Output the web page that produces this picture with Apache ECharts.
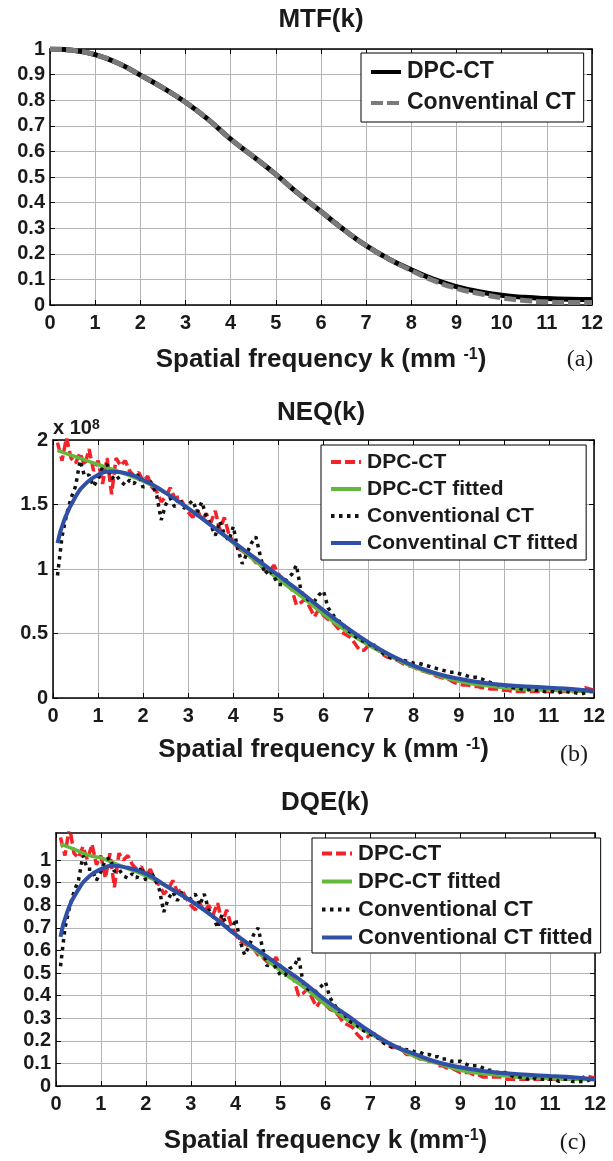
<!DOCTYPE html>
<html lang="en">
<head>
<meta charset="UTF-8">
<title>MTF / NEQ / DQE</title>
<script src="https://cdn.jsdelivr.net/npm/echarts@6/dist/echarts.min.js"></script>
<style>
    * { margin: 0; padding: 0; box-sizing: border-box; }
    html, body { background: #fff; }
</style>
</head>
<body>
<div id="main" style="width:613px;height:1161px;"></div>
<script type="text/javascript">
    // ---- data ----
    var xTicks = [0, 1, 2, 3, 4, 5, 6, 7, 8, 9, 10, 11, 12];
    var yTicksA = [0, 0.1, 0.2, 0.3, 0.4, 0.5, 0.6, 0.7, 0.8, 0.9, 1];
    var yTicksB = [0, 0.5, 1, 1.5, 2];          // x 10^8
    var yTicksC = [0, 0.1, 0.2, 0.3, 0.4, 0.5, 0.6, 0.7, 0.8, 0.9, 1];

    // (a) MTF
    var kMtf = [0, 0.5, 1, 1.5, 2, 2.5, 3, 3.5, 4, 4.5, 5, 5.5, 6, 6.5, 7, 7.5, 8, 8.5, 9, 9.5, 10, 10.5, 11, 11.5, 12];
    var mtfDpc = [1.0, 0.995, 0.978, 0.945, 0.898, 0.848, 0.792, 0.725, 0.648, 0.58, 0.51, 0.435, 0.365, 0.295, 0.232, 0.18, 0.138, 0.1, 0.072, 0.052, 0.038, 0.03, 0.025, 0.022, 0.021];
    var mtfConv = [1.0, 0.995, 0.978, 0.945, 0.898, 0.848, 0.792, 0.725, 0.648, 0.58, 0.51, 0.435, 0.365, 0.295, 0.232, 0.18, 0.135, 0.095, 0.065, 0.045, 0.028, 0.018, 0.012, 0.01, 0.01];

    // fitted curves, (b) and (c)
    var kFit = [0.1, 0.25, 0.5, 0.75, 1, 1.25, 1.5, 2, 2.5, 3, 3.5, 4, 4.5, 5, 5.5, 6, 6.5, 7, 7.5, 8, 8.5, 9, 9.5, 10, 10.5, 11, 11.5, 12];
    var neqDpcFit = [1.92, 1.9, 1.87, 1.84, 1.81, 1.78, 1.75, 1.68, 1.59, 1.47, 1.34, 1.2, 1.06, 0.92, 0.79, 0.65, 0.52, 0.41, 0.32, 0.24, 0.18, 0.13, 0.1, 0.08, 0.065, 0.06, 0.055, 0.05];
    var neqConvFit = [1.2, 1.38, 1.56, 1.67, 1.73, 1.755, 1.75, 1.69, 1.59, 1.47, 1.34, 1.21, 1.08, 0.95, 0.82, 0.68, 0.55, 0.43, 0.33, 0.25, 0.19, 0.15, 0.12, 0.1, 0.09, 0.08, 0.07, 0.055];
    var dqeDpcFit = [1.07, 1.06, 1.04, 1.02, 1.01, 0.99, 0.97, 0.93, 0.88, 0.82, 0.75, 0.67, 0.59, 0.51, 0.44, 0.36, 0.29, 0.23, 0.18, 0.13, 0.1, 0.07, 0.055, 0.045, 0.036, 0.033, 0.03, 0.028];
    var dqeConvFit = [0.66, 0.77, 0.87, 0.93, 0.96, 0.975, 0.97, 0.94, 0.88, 0.82, 0.75, 0.67, 0.6, 0.53, 0.46, 0.38, 0.31, 0.24, 0.18, 0.14, 0.105, 0.083, 0.067, 0.056, 0.05, 0.044, 0.039, 0.03];

    // measured (noisy) curves, sampled every 0.1 from 0.1 to 12
    var kNoisy = [];
    for (var i = 1; i <= 120; i++) kNoisy.push(i / 10);

    var neqDpc = [
        1.98, 1.84, 2.02, 1.86, 1.82, 1.9, 1.8, 1.93, 1.76, 1.84,
        1.66, 1.86, 1.58, 1.86, 1.8, 1.84, 1.76, 1.72, 1.75, 1.68,
        1.72, 1.63, 1.6, 1.52, 1.56, 1.63, 1.55, 1.56, 1.5, 1.44,
        1.4, 1.46, 1.38, 1.43, 1.36, 1.45, 1.3, 1.4, 1.27, 1.21,
        1.16, 1.14, 1.11, 1.09, 1.05, 1.03, 0.99, 0.98, 1.03, 0.96,
        0.92, 0.9, 0.84, 0.72, 0.74, 0.77, 0.7, 0.63, 0.69, 0.64,
        0.61, 0.59, 0.55, 0.51, 0.49, 0.47, 0.42, 0.37, 0.37, 0.41,
        0.42, 0.38, 0.34, 0.32, 0.31, 0.3, 0.28, 0.26, 0.25, 0.24,
        0.22, 0.21, 0.2, 0.19, 0.17, 0.16, 0.15, 0.14, 0.12, 0.11,
        0.1, 0.1, 0.09, 0.09, 0.08, 0.08, 0.07, 0.07, 0.07, 0.06,
        0.06, 0.05, 0.05, 0.05, 0.05, 0.05, 0.05, 0.05, 0.05, 0.05,
        0.05, 0.05, 0.05, 0.05, 0.05, 0.05, 0.06, 0.08, 0.07, 0.06
    ];
    var neqConv = [
        0.95, 1.25, 1.42, 1.55, 1.64, 1.84, 1.72, 1.73, 1.64, 1.7,
        1.79, 1.81, 1.7, 1.73, 1.68, 1.65, 1.69, 1.66, 1.74, 1.63,
        1.7, 1.66, 1.57, 1.38, 1.5, 1.55, 1.48, 1.55, 1.47, 1.5,
        1.53, 1.44, 1.52, 1.41, 1.34, 1.26, 1.37, 1.27, 1.22, 1.33,
        1.15, 1.04, 1.12, 1.2, 1.25, 1.1, 0.96, 1.0, 0.94, 0.88,
        0.88, 0.93, 0.96, 1.03, 0.83, 0.78, 0.75, 0.75, 0.8, 0.83,
        0.7, 0.65, 0.6, 0.59, 0.53, 0.51, 0.48, 0.45, 0.44, 0.42,
        0.4, 0.38, 0.35, 0.33, 0.31, 0.3, 0.3, 0.29, 0.28, 0.27,
        0.27, 0.26, 0.25, 0.24, 0.23, 0.22, 0.21, 0.2, 0.2, 0.19,
        0.18, 0.17, 0.16, 0.16, 0.15, 0.13, 0.12, 0.11, 0.1, 0.1,
        0.09, 0.08, 0.08, 0.07, 0.06, 0.07, 0.06, 0.06, 0.05, 0.05,
        0.05, 0.04, 0.05, 0.05, 0.04, 0.04, 0.03, 0.04, 0.05, 0.05
    ];
    var dqeDpc = [
        1.1, 1.02, 1.15, 1.03, 1.01, 1.06, 1.0, 1.07, 0.98, 1.02,
        0.92, 1.03, 0.88, 1.03, 1.0, 1.02, 0.98, 0.96, 0.97, 0.93,
        0.96, 0.91, 0.89, 0.85, 0.87, 0.91, 0.86, 0.87, 0.83, 0.8,
        0.78, 0.81, 0.77, 0.8, 0.76, 0.81, 0.72, 0.78, 0.71, 0.67,
        0.64, 0.63, 0.62, 0.61, 0.58, 0.57, 0.55, 0.54, 0.57, 0.53,
        0.51, 0.5, 0.47, 0.4, 0.41, 0.43, 0.39, 0.35, 0.38, 0.36,
        0.34, 0.33, 0.31, 0.28, 0.27, 0.26, 0.23, 0.21, 0.21, 0.23,
        0.23, 0.21, 0.19, 0.18, 0.17, 0.17, 0.16, 0.14, 0.14, 0.13,
        0.12, 0.12, 0.11, 0.11, 0.09, 0.09, 0.08, 0.08, 0.07, 0.06,
        0.06, 0.06, 0.05, 0.05, 0.04, 0.04, 0.04, 0.04, 0.04, 0.03,
        0.03, 0.03, 0.03, 0.03, 0.03, 0.03, 0.03, 0.03, 0.03, 0.03,
        0.03, 0.03, 0.03, 0.03, 0.03, 0.03, 0.035, 0.045, 0.04, 0.035
    ];
    var dqeConv = [
        0.53, 0.7, 0.79, 0.86, 0.91, 1.02, 0.96, 0.96, 0.91, 0.95,
        1.0, 1.01, 0.95, 0.96, 0.93, 0.92, 0.94, 0.92, 0.97, 0.91,
        0.95, 0.92, 0.87, 0.77, 0.83, 0.86, 0.82, 0.86, 0.82, 0.83,
        0.85, 0.8, 0.85, 0.78, 0.75, 0.7, 0.76, 0.71, 0.68, 0.74,
        0.64, 0.58, 0.62, 0.67, 0.7, 0.61, 0.53, 0.56, 0.52, 0.49,
        0.49, 0.52, 0.53, 0.57, 0.46, 0.43, 0.42, 0.42, 0.44, 0.46,
        0.39, 0.36, 0.33, 0.33, 0.29, 0.28, 0.27, 0.25, 0.24, 0.23,
        0.22, 0.21, 0.19, 0.18, 0.17, 0.17, 0.17, 0.16, 0.16, 0.15,
        0.15, 0.14, 0.14, 0.13, 0.13, 0.12, 0.12, 0.11, 0.11, 0.11,
        0.1, 0.09, 0.09, 0.09, 0.08, 0.07, 0.07, 0.06, 0.06, 0.06,
        0.05, 0.04, 0.04, 0.04, 0.03, 0.04, 0.03, 0.03, 0.03, 0.03,
        0.03, 0.02, 0.03, 0.03, 0.02, 0.02, 0.02, 0.02, 0.03, 0.03
    ];

    // ---- styling helpers ----
    var FONT = '"Liberation Sans", Arial, sans-serif';
    var INK = '#1a1a1a';
    var RED = '#f5222a', GREEN = '#62b83c', BLUE = '#2f50a6', DOT = '#111';

    function pairs(xs, ys) {
        return xs.map(function (x, i) { return [x, ys[i]]; });
    }

    function xBottom(g, gap, label) {
        return {
            type: 'value', gridIndex: g, min: 0, max: 12, interval: 1,
            axisLine: { onZero: false, lineStyle: { color: '#000', width: 1.5 } },
            axisTick: { inside: true, length: 5, lineStyle: { color: '#000' } },
            axisLabel: { margin: 8, color: INK, fontFamily: FONT, fontWeight: 'bold', fontSize: 20 },
            splitLine: { show: true, lineStyle: { color: '#b4b4b4', width: 1 } },
            name: label, nameLocation: 'middle', nameGap: gap,
            nameTextStyle: {
                color: INK, fontFamily: FONT, fontWeight: 'bold', fontSize: 26,
                rich: { sup: { fontFamily: FONT, fontWeight: 'bold', fontSize: 16, color: INK, verticalAlign: 'top' } }
            }
        };
    }
    function xTop(g) {
        return {
            type: 'value', gridIndex: g, position: 'top', min: 0, max: 12, interval: 1,
            axisLine: { onZero: false, lineStyle: { color: '#000', width: 1.5 } },
            axisTick: { inside: true, length: 5, lineStyle: { color: '#000' } },
            axisLabel: { show: false }, splitLine: { show: false }
        };
    }
    function yLeft(g, max, ticks) {
        return {
            type: 'value', gridIndex: g, min: 0, max: max,
            axisLine: { show: true, onZero: false, lineStyle: { color: '#000', width: 1.5 } },
            axisTick: { show: true, inside: true, length: 5, customValues: ticks, lineStyle: { color: '#000' } },
            axisLabel: { margin: 5, color: INK, fontFamily: FONT, fontWeight: 'bold', fontSize: 20, customValues: ticks },
            splitLine: { show: true, lineStyle: { color: '#b4b4b4', width: 1 } }
        };
    }
    function yRight(g, max, ticks) {
        return {
            type: 'value', gridIndex: g, position: 'right', min: 0, max: max,
            axisLine: { show: true, onZero: false, lineStyle: { color: '#000', width: 1.5 } },
            axisTick: { show: true, inside: true, length: 5, customValues: ticks, lineStyle: { color: '#000' } },
            axisLabel: { show: false, customValues: ticks }, splitLine: { show: false }
        };
    }
    function line(name, idx, xs, ys, color, width, type, smooth) {
        return {
            name: name, type: 'line', xAxisIndex: idx, yAxisIndex: idx,
            data: pairs(xs, ys), smooth: smooth, symbol: 'none', showSymbol: false,
            lineStyle: { color: color, width: width, type: type },
            itemStyle: { color: color }, silent: true, z: 3
        };
    }
    function legendBox(names, left, top, fontSize, lineH, gap, pad) {
        return {
            data: names, orient: 'vertical', left: left, top: top,
            padding: pad, itemGap: gap, itemWidth: 30, itemHeight: 12,
            backgroundColor: '#fff', borderColor: '#000', borderWidth: 1, borderRadius: 0,
            selectedMode: false,
            itemStyle: { opacity: 0 },
            lineStyle: { width: 4 },
            formatter: function (n) { return n.slice(2); },
            textStyle: { color: INK, fontFamily: FONT, fontWeight: 'bold', fontSize: fontSize, lineHeight: lineH, padding: [0, 0, 0, 1] }
        };
    }
    function label(x, y, text, font) {
        return {
            type: 'text', x: x, y: y, silent: true,
            style: { text: text, font: font, fill: INK, textAlign: 'center', textVerticalAlign: 'middle' }
        };
    }

    var chart = echarts.init(document.getElementById('main'));
    var supStyle = { sup: { font: 'bold 14px ' + FONT, fill: INK, verticalAlign: 'top' } };

    var option = {
        animation: false,
        backgroundColor: '#fff',
        grid: [
            { left: 50, top: 49, width: 542, height: 256 },
            { left: 53, top: 440, width: 541, height: 258 },
            { left: 56, top: 833, width: 539, height: 253 }
        ],
        xAxis: [
            xBottom(0, 42, 'Spatial frequency k (mm {sup|-1})'),
            xBottom(1, 39, 'Spatial frequency k (mm {sup|-1})'),
            xBottom(2, 42, 'Spatial frequency k (mm{sup|-1})'),
            xTop(0), xTop(1), xTop(2)
        ],
        yAxis: [
            yLeft(0, 1, yTicksA), yLeft(1, 2, yTicksB), yLeft(2, 1.12, yTicksC),
            yRight(0, 1, yTicksA), yRight(1, 2, yTicksB), yRight(2, 1.12, yTicksC)
        ],
        legend: [
            legendBox(['a|DPC-CT', 'a|Conventinal CT'], 361, 53, 23, 26, 5, [6, 8, 6, 8]),
            legendBox(['b|DPC-CT', 'b|DPC-CT fitted', 'b|Conventional CT', 'b|Conventinal CT fitted'], 321, 445, 21, 24, 3, [5, 8, 5, 8]),
            legendBox(['c|DPC-CT', 'c|DPC-CT fitted', 'c|Conventional CT', 'c|Conventional CT fitted'], 312, 838, 22, 25, 3, [3, 8, 3, 8])
        ],
        graphic: [
            label(321, 20, 'MTF(k)', 'bold 26px ' + FONT),
            label(321, 413, 'NEQ(k)', 'bold 26px ' + FONT),
            label(325, 803, 'DQE(k)', 'bold 26px ' + FONT),
            { type: 'text', x: 53, y: 428, silent: true,
              style: { text: 'x 10{sup|8}', font: 'bold 20px ' + FONT, fill: INK, textAlign: 'left', textVerticalAlign: 'middle', rich: supStyle } },
            label(580, 360, '(a)', '24px "Liberation Serif", "Times New Roman", serif'),
            label(574, 755, '(b)', '24px "Liberation Serif", "Times New Roman", serif'),
            label(573, 1143, '(c)', '24px "Liberation Serif", "Times New Roman", serif')
        ],
        series: [
            line('a|DPC-CT', 0, kMtf, mtfDpc, '#000', 5, 'solid', true),
            line('a|Conventinal CT', 0, kMtf, mtfConv, '#7a7a7a', 5, [12, 4], true),

            line('b|DPC-CT', 1, kNoisy, neqDpc, RED, 3.5, [10, 4], false),
            line('b|DPC-CT fitted', 1, kFit, neqDpcFit, GREEN, 3.5, 'solid', true),
            line('b|Conventional CT', 1, kNoisy, neqConv, DOT, 3.5, [3.5, 4.5], false),
            line('b|Conventinal CT fitted', 1, kFit, neqConvFit, BLUE, 4, 'solid', true),

            line('c|DPC-CT', 2, kNoisy, dqeDpc, RED, 3.5, [10, 4], false),
            line('c|DPC-CT fitted', 2, kFit, dqeDpcFit, GREEN, 3.5, 'solid', true),
            line('c|Conventional CT', 2, kNoisy, dqeConv, DOT, 3.5, [3.5, 4.5], false),
            line('c|Conventional CT fitted', 2, kFit, dqeConvFit, BLUE, 4, 'solid', true)
        ]
    };
    chart.setOption(option);
</script>
</body>
</html>
